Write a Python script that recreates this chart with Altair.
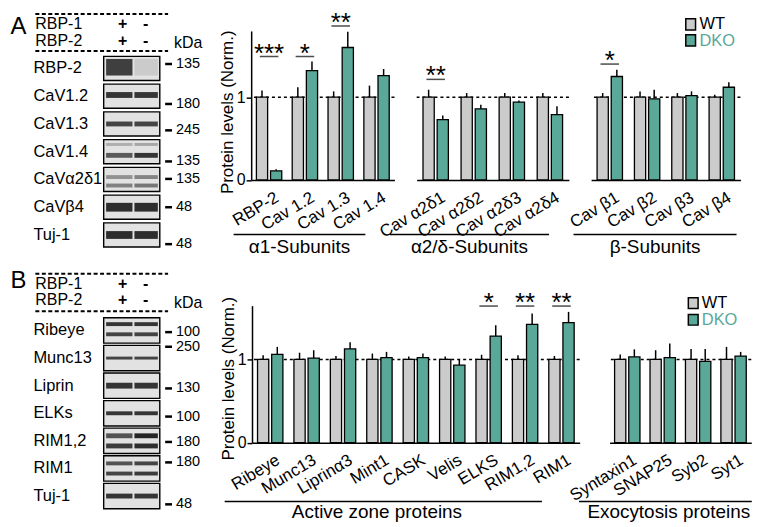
import altair as alt
import pandas as pd

SX, SY = 0.98, 0.978
FONT = "Liberation Sans"
GRAY, TEAL = "#cbcbcb", "#5aa898"
GENO = ["WT", "DKO"]


def fx(v):
    return round(v * SX, 2)


def fy(v):
    return round(v * SY, 2)


# ---------------- data ----------------
a1_cats = ["RBP-2", "Cav 1.2", "Cav 1.3", "Cav 1.4"]
a1_wt_err = [0.08, 0.12, 0.07, 0.14]
a1_dko = [0.11, 1.32, 1.60, 1.26]
a1_dko_err = [0.02, 0.11, 0.19, 0.08]
a1_sig_cats = ["RBP-2", "Cav 1.2", "Cav 1.3"]
a1_sig_y = [1.49, 1.49, 1.86]
a1_sig_txt = ["***", "*", "**"]

a2_cats = ["Cav α2δ1", "Cav α2δ2", "Cav α2δ3", "Cav α2δ4"]
a2_wt_err = [0.09, 0.05, 0.05, 0.05]
a2_dko = [0.73, 0.86, 0.94, 0.79]
a2_dko_err = [0.05, 0.05, 0.02, 0.10]
a2_sig_cats = ["Cav α2δ1"]
a2_sig_y = [1.215]
a2_sig_txt = ["**"]

a3_cats = ["Cav β1", "Cav β2", "Cav β3", "Cav β4"]
a3_wt_err = [0.05, 0.07, 0.05, 0.03]
a3_dko = [1.25, 0.98, 1.02, 1.12]
a3_dko_err = [0.08, 0.11, 0.05, 0.06]
a3_sig_cats = ["Cav β1"]
a3_sig_y = [1.40]
a3_sig_txt = ["*"]

b1_cats = ["Ribeye", "Munc13", "Liprinα3", "Mint1", "CASK", "Velis", "ELKS", "RIM1,2", "RIM1"]
b1_wt_err = [0.05, 0.08, 0.04, 0.07, 0.035, 0.035, 0.055, 0.05, 0.04]
b1_dko = [1.06, 1.015, 1.125, 1.02, 1.02, 0.93, 1.28, 1.42, 1.44]
b1_dko_err = [0.09, 0.095, 0.08, 0.07, 0.05, 0.07, 0.13, 0.13, 0.13]
b1_sig_cats = ["ELKS", "RIM1,2", "RIM1"]
b1_sig_y = [1.64, 1.64, 1.64]
b1_sig_txt = ["*", "**", "**"]

b2_cats = ["Syntaxin1", "SNAP25", "Syb2", "Syt1"]
b2_wt_err = [0.06, 0.11, 0.125, 0.15]
b2_dko = [1.03, 1.02, 0.977, 1.04]
b2_dko_err = [0.09, 0.17, 0.148, 0.05]

groupsA = ["α1-Subunits", "α2/δ-Subunits", "β-Subunits"]
groupsB = ["Active zone proteins", "Exocytosis proteins"]
y_title = "Protein levels (Norm.)"

header_rows = ["RBP-1", "RBP-2"]
wt_signs = ["+", "+"]
dko_signs = ["-", "-"]

blotA_names = ["RBP-2", "CaV1.2", "CaV1.3", "CaV1.4", "CaVα2δ1", "CaVβ4", "Tuj-1"]
blotA_kda = ["135", "180", "245", "135", "135", "48", "48"]
blotA_kda_off = [-0.16, 0.28, 0.23, 0.35, -0.02, 0.0, 0.33]
blotA_bands = [
    (0, -0.05, 17, "#2e2e2e", "#c9c9c9"),
    (1, -0.05, 6, "#222222", "#222222"),
    (2, 0.0, 5, "#333333", "#333333"),
    (3, -0.3, 3, "#a8a8a8", "#a0a0a0"),
    (3, 0.15, 5, "#4a4a4a", "#222222"),
    (4, -0.1, 4, "#8a8a8a", "#7a7a7a"),
    (4, 0.25, 4, "#777777", "#6a6a6a"),
    (5, 0.0, 9, "#1a1a1a", "#1a1a1a"),
    (6, 0.0, 8, "#1a1a1a", "#1a1a1a"),
]

blotB_names = ["Ribeye", "Munc13", "Liprin", "ELKs", "RIM1,2", "RIM1", "Tuj-1"]
blotB_kda = ["100", "250", "130", "100", "180", "180", "48"]
blotB_kda_off = [0.06, -0.41, 0.1, 0.12, 0.04, -0.22, 0.3]
blotB_bands = [
    (0, -0.25, 4, "#222222", "#222222"),
    (0, 0.15, 4, "#333333", "#333333"),
    (1, 0.0, 3, "#333333", "#333333"),
    (2, 0.0, 6, "#222222", "#222222"),
    (3, 0.0, 4, "#222222", "#222222"),
    (4, -0.2, 5, "#444444", "#111111"),
    (4, 0.2, 5, "#2a2a2a", "#1a1a1a"),
    (5, -0.2, 4, "#444444", "#333333"),
    (5, 0.2, 4, "#333333", "#2a2a2a"),
    (6, 0.0, 5, "#222222", "#222222"),
]

BAR_W = 11.5      # bar width (ref px)
BAR_OFF = 7.25    # offset of bar centre from category centre (ref px)


def bar_group(cats, wt_err, dko, dko_err, sig, step, height_ref, ymax,
              label, line_rel, text_cx, line_y, text_y, show_y=False,
              title_y=None, legend=None):
    rows = []
    for i, c in enumerate(cats):
        rows.append(dict(category=c, genotype="WT", value=1.0, top=1.0 + wt_err[i]))
        rows.append(dict(category=c, genotype="DKO", value=dko[i], top=dko[i] + dko_err[i]))
    df = pd.DataFrame(rows)
    W, H = fx(len(cats) * step), fy(height_ref)

    xaxis = alt.Axis(title=None, labelAngle=-31, labelAlign="right", labelBaseline="top",
                     labelPadding=9, labelOffset=4, ticks=False, tickSize=0, domain=True,
                     domainColor="black", domainWidth=1.5, labelFont=FONT,
                     labelFontSize=17, labelColor="black", labelOverlap=False,
                     labelBound=False, labelFlush=False)
    if show_y:
        yaxis = alt.Axis(title=y_title, values=[0, 1], format="d", grid=False,
                         domainColor="black", domainWidth=1.5, tickColor="black",
                         tickWidth=1.5, tickSize=5, labelPadding=1, labelFont=FONT,
                         labelFontSize=16, labelColor="black", titleFont=FONT,
                         titleFontSize=17, titleFontWeight="normal", titleColor="black",
                         titleAngle=270, titleX=-fx(19), titleY=fy(title_y),
                         titleAlign="center", titleBaseline="alphabetic")
    else:
        yaxis = None
    xenc = alt.X("category:N", sort=cats,
                 scale=alt.Scale(paddingInner=0.32, paddingOuter=0.16), axis=xaxis)
    yenc = alt.Y("value:Q", scale=alt.Scale(domain=[0, ymax], nice=False, zero=True),
                 axis=yaxis)

    dash = alt.Chart(pd.DataFrame({"value": [1.0]})).mark_rule(
        color="black", strokeWidth=1.5, strokeDash=[3, 3]).encode(y=yenc)
    layers = [dash]
    for g, col, sgn in zip(GENO, [GRAY, TEAL], [-1, 1]):
        sub = df[df.genotype == g]
        layers.append(alt.Chart(sub).mark_rule(color="black", strokeWidth=1.5,
                                               xOffset=sgn * fx(BAR_OFF))
                      .encode(x=xenc, y=yenc, y2="top:Q"))
        layers.append(alt.Chart(sub).mark_bar(color=col, stroke="black", strokeWidth=1.3,
                                              width=fx(BAR_W), xOffset=sgn * fx(BAR_OFF))
                      .encode(x=xenc, y=yenc))

    if sig:
        sdf = pd.DataFrame({"category": sig[0], "value": sig[1], "stars": sig[2]})
        layers.append(alt.Chart(sdf).mark_tick(orient="horizontal", size=fx(19),
                                                thickness=1.5, color="black")
                      .encode(x=xenc, y=yenc))
        layers.append(alt.Chart(sdf).mark_text(fontSize=26, dy=5, baseline="alphabetic",
                                                font=FONT, color="black")
                      .encode(x=xenc, y=yenc, text="stars:N"))

    gdf = pd.DataFrame({"label": [label]})
    layers.append(alt.Chart(gdf).mark_rule(color="black", strokeWidth=1.5).encode(
        x=alt.value(fx(line_rel[0])), x2=alt.value(fx(line_rel[1])), y=alt.value(fy(line_y))))
    layers.append(alt.Chart(gdf).mark_text(font=FONT, fontSize=19, color="black",
                                           align="center", baseline="middle").encode(
        x=alt.value(fx(text_cx)), y=alt.value(fy(text_y)), text="label:N"))

    if legend:
        lx, tx, sq = legend
        for g, col, (y0, y1, ty) in zip(GENO, [GRAY, TEAL], sq):
            ldf = pd.DataFrame({"label": [g]})
            layers.append(alt.Chart(ldf).mark_rect(fill=col, stroke="black", strokeWidth=1.5)
                          .encode(x=alt.value(fx(lx)), x2=alt.value(fx(lx + 10)),
                                  y=alt.value(fy(y0)), y2=alt.value(fy(y1))))
            layers.append(alt.Chart(ldf).mark_text(font=FONT, fontSize=16.5, align="left",
                                                   baseline="middle",
                                                   color="black" if g == "WT" else TEAL)
                          .encode(x=alt.value(fx(tx)), y=alt.value(fy(ty)), text="label:N"))

    return alt.layer(*layers).properties(width=W, height=H)


def blot_panel(letter, names, kdas, koffs, bands, width_ref, height_ref, y_top, y_bot,
               box_h, hdr):
    xs = alt.Scale(domain=[0, width_ref], nice=False, zero=False)
    ys = alt.Scale(domain=[y_top, y_bot], nice=False, zero=False, reverse=True)

    def Xf(f):
        return alt.X(f, type="quantitative", scale=xs, axis=None)

    def Yf(f):
        return alt.Y(f, type="quantitative", scale=ys, axis=None)

    n = len(names)
    rdf = pd.DataFrame({"row": list(range(n)), "name": names, "kda": kdas})
    rdf["kpos"] = rdf["row"] + pd.Series(koffs)
    rdf["y0"] = rdf["row"] - box_h / 2
    rdf["y1"] = rdf["row"] + box_h / 2
    rdf["bx0"], rdf["bx1"] = 97.0, 154.5
    rdf["lx"], rdf["tx0"], rdf["tx1"], rdf["kx"] = 25.0, 160.0, 167.0, 171.0

    lanes = [(99.5, 126.5), (128.5, 152.5)]
    brows = []
    for (r, pos, th, s_wt, s_dko) in bands:
        for (x0, x1), s in zip(lanes, [s_wt, s_dko]):
            brows.append(dict(x0=x0, x1=x1, by=r + pos * box_h, thick=th * SY, shade=s))
    bdf = pd.DataFrame(brows)

    tf = dict(font=FONT, color="black")
    layers = [
        alt.Chart(rdf).mark_rect(fill="#e2e2e2", stroke="black", strokeWidth=1.4).encode(
            x=Xf("bx0"), x2=alt.X2("bx1"), y=Yf("y0"), y2=alt.Y2("y1")),
        alt.Chart(bdf).mark_rule(strokeCap="butt", opacity=0.9).encode(
            x=Xf("x0"), x2=alt.X2("x1"), y=Yf("by"),
            strokeWidth=alt.StrokeWidth("thick:Q", scale=None),
            color=alt.Color("shade:N", scale=None)),
        alt.Chart(rdf).mark_text(align="left", baseline="middle", fontSize=16.5, **tf).encode(
            x=Xf("lx"), y=Yf("row"), text="name:N"),
        alt.Chart(rdf).mark_rule(strokeWidth=2.5, color="black").encode(
            x=Xf("tx0"), x2=alt.X2("tx1"), y=Yf("kpos")),
        alt.Chart(rdf).mark_text(align="left", baseline="middle", fontSize=14.5, **tf).encode(
            x=Xf("kx"), y=Yf("kpos"), text="kda:N"),
    ]
    hdf = pd.DataFrame({"label": header_rows, "y": [hdr["r1"], hdr["r2"]],
                        "wt": wt_signs, "dko": dko_signs})
    hdf["lx"], hdf["px"], hdf["mx"] = 27.0, 116.5, 140.0
    kdf = pd.DataFrame({"label": ["kDa"], "y": [hdr["kda"]], "x": [169.0]})
    ddf = pd.DataFrame({"y": [hdr["dash_top"], hdr["dash_bot"]], "x0": [27.0, 27.0],
                        "x1": [163.0, 163.0]})
    ldf = pd.DataFrame({"label": [letter], "y": [hdr["letter"]], "x": [1.5]})
    layers += [
        alt.Chart(hdf).mark_text(align="left", baseline="middle", fontSize=16, **tf).encode(
            x=Xf("lx"), y=Yf("y"), text="label:N"),
        alt.Chart(hdf).mark_text(align="center", baseline="middle", fontSize=16,
                                 fontWeight="bold", **tf).encode(
            x=Xf("px"), y=Yf("y"), text="wt:N"),
        alt.Chart(hdf).mark_text(align="center", baseline="middle", fontSize=16,
                                 fontWeight="bold", **tf).encode(
            x=Xf("mx"), y=Yf("y"), text="dko:N"),
        alt.Chart(kdf).mark_text(align="left", baseline="middle", fontSize=16, **tf).encode(
            x=Xf("x"), y=Yf("y"), text="label:N"),
        alt.Chart(ddf).mark_rule(strokeDash=[4, 2.5], strokeWidth=2, color="black").encode(
            x=Xf("x0"), x2=alt.X2("x1"), y=Yf("y")),
        alt.Chart(ldf).mark_text(align="left", baseline="alphabetic", fontSize=24, **tf).encode(
            x=Xf("x"), y=Yf("y"), text="label:N"),
    ]
    return alt.layer(*layers).properties(width=fx(width_ref), height=fy(height_ref))


HA = 153
blotA = blot_panel("A", blotA_names, blotA_kda, blotA_kda_off, blotA_bands,
                   225.4, HA, -1.351, 4.018, 0.87,
                   dict(letter=-1.246, dash_top=-1.96, r1=-1.59, r2=-1.0,
                        kda=-0.93, dash_bot=-0.625))
gA1 = bar_group(a1_cats, a1_wt_err, a1_dko, a1_dko_err, (a1_sig_cats, a1_sig_y, a1_sig_txt),
                36.7, HA, 1.8, groupsA[0], (-18, 117), 49.5, 209, 222,
                show_y=True, title_y=83)
gA2 = bar_group(a2_cats, a2_wt_err, a2_dko, a2_dko_err, (a2_sig_cats, a2_sig_y, a2_sig_txt),
                39, HA, 1.8, groupsA[1], (-27.4, 135.6), 54.1, 209, 222)
gA3 = bar_group(a3_cats, a3_wt_err, a3_dko, a3_dko_err, (a3_sig_cats, a3_sig_y, a3_sig_txt),
                38.25, HA, 1.8, groupsA[2], (-18, 149), 65.5, 209, 222,
                legend=(97, 111, [(-12.5, -1, -7), (4, 15.5, 10)]))
rowA = alt.hconcat(blotA, gA1, gA2, gA3, spacing=fx(22.6), bounds="flush")

HB = 140.7
blotB = blot_panel("B", blotB_names, blotB_kda, blotB_kda_off, blotB_bands,
                   217.4, HB, -0.900, 4.066, 0.92,
                   dict(letter=-1.535, dash_top=-2.06, r1=-1.70, r2=-1.10,
                        kda=-1.006, dash_bot=-0.699))
gB1 = bar_group(b1_cats, b1_wt_err, b1_dko, b1_dko_err, (b1_sig_cats, b1_sig_y, b1_sig_txt),
                37.3, HB, 1.645, groupsB[0], (-28, 297), 128, 201, 212,
                show_y=True, title_y=74.5)
gB2 = bar_group(b2_cats, b2_wt_err, b2_dko, b2_dko_err, None,
                36.3, HB, 1.645, groupsB[1], (-31.3, 145.7), 60.7, 201, 212,
                legend=(80.7, 94.5, [(-8, 3, -2.5), (9, 20, 14.5)]))
rowB = alt.hconcat(blotB, gB1, gB2, spacing=fx(30.6), bounds="flush")

# With flush bounds a nested row counts as zero height, so the spacing is
# measured from the top of row A's plots to the top of row B's plots.
chart = (alt.vconcat(rowA, rowB, spacing=fy(303 - 21), bounds="flush")
         .properties(padding=1)
         .configure(font=FONT, background="white")
         .configure_view(strokeWidth=0, stroke="transparent"))

chart.save("out.html", embed_options={"renderer": "svg", "actions": False})
